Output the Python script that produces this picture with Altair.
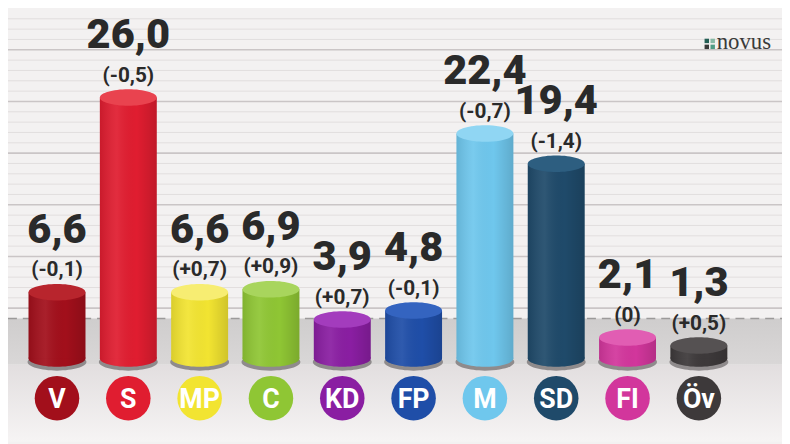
import altair as alt
import pandas as pd

# ---------------- data ----------------
PARTIES = ["V", "S", "MP", "C", "KD", "FP", "M", "SD", "FI", "Öv"]
VALUES = [6.6, 26.0, 6.6, 6.9, 3.9, 4.8, 22.4, 19.4, 2.1, 1.3]
CHANGES = [-0.1, -0.5, 0.7, 0.9, 0.7, -0.1, -0.7, -1.4, 0.0, 0.5]
THRESHOLD = 4.0
GRID_LEVELS = list(range(0, 29))

# ---------------- styles ----------------
BAR_COLORS = ["#a20f1b", "#e01d30", "#f2e431", "#8fc634", "#8a1ea2",
              "#1f4ea8", "#6fc7ed", "#1f4a6a", "#d2369c", "#3d393a"]
TOP_COLORS = ["#b8252d", "#e9434f", "#f7ed72", "#a8d55d", "#a33cbd",
              "#3464c0", "#90d6f3", "#2d5e80", "#e15db3", "#555152"]
FONT = "Liberation Sans Narrow, Roboto, sans-serif"
W, H = 782, 436
ELLIPSE = "M-1,0A1,0.29,0,1,1,1,0A1,0.29,0,1,1,-1,0Z"
BAR_W = 57.5


def fmt_value(v):
    return f"{v:.1f}".replace(".", ",")


def fmt_change(c):
    if c == 0:
        return "(0)"
    return "(" + f"{c:+.1f}".replace(".", ",") + ")"


df = pd.DataFrame({
    "party": PARTIES,
    "value": VALUES,
    "vlabel": [fmt_value(v) for v in VALUES],
    "clabel": [fmt_change(c) for c in CHANGES],
})

x_scale = alt.Scale(type="point", domain=PARTIES, range=[49.5, 698], padding=0)
y_scale = alt.Scale(domain=[-8.28, 34.68], nice=False, zero=False)
grid_scale = alt.Scale(domain=[-12.93, 28.83], nice=False, zero=False)
color_scale = alt.Scale(domain=PARTIES, range=BAR_COLORS)
top_scale = alt.Scale(domain=PARTIES, range=TOP_COLORS)

X = alt.X("party:N", scale=x_scale, axis=None)
base = alt.Chart(df)

grid = alt.Chart(pd.DataFrame({"g": GRID_LEVELS})).mark_rule().encode(
    y=alt.Y("g:Q", scale=grid_scale, axis=None),
    x=alt.value(0), x2=alt.value(W),
    color=alt.condition("datum.g % 5 === 0", alt.value("#cac5c6"), alt.value("#e2dede")),
    strokeWidth=alt.condition("datum.g % 5 === 0", alt.value(1.6), alt.value(1)),
)

tdf = pd.DataFrame({"t": [THRESHOLD]})

lower_bg = alt.Chart(tdf).mark_rect(
    color=alt.LinearGradient(gradient="linear", x1=0, x2=0, y1=0, y2=1,
                             stops=[alt.GradientStop(offset=0, color="#e2dedf"),
                                    alt.GradientStop(offset=1, color="#f6f4f4")])
).encode(x=alt.value(0), x2=alt.value(W),
         y=alt.YDatum(-0.6, scale=y_scale, axis=None), y2=alt.Y2Datum(-8.28))

band = alt.Chart(tdf).mark_rect(
    color=alt.LinearGradient(gradient="linear", x1=0, x2=0, y1=0, y2=1,
                             stops=[alt.GradientStop(offset=0, color="#cfcdcd"),
                                    alt.GradientStop(offset=1, color="#d9d7d7")])
).encode(x=alt.value(0), x2=alt.value(W),
         y=alt.Y("t:Q", scale=y_scale, axis=None), y2=alt.Y2Datum(-0.6))

thr = alt.Chart(tdf).mark_rule(color="#9c9a9a", strokeDash=[9, 6], strokeWidth=1.5).encode(
    y=alt.Y("t:Q", scale=y_scale, axis=None), x=alt.value(0), x2=alt.value(W))

SHADE = alt.LinearGradient(
    gradient="linear", x1=0, x2=1, y1=0, y2=0,
    stops=[alt.GradientStop(offset=0, color="rgba(0,0,0,0.10)"),
           alt.GradientStop(offset=0.3, color="rgba(255,255,255,0.07)"),
           alt.GradientStop(offset=0.65, color="rgba(0,0,0,0)"),
           alt.GradientStop(offset=1, color="rgba(0,0,0,0.14)")])

shadow = base.mark_point(shape=ELLIPSE, filled=True, size=(BAR_W + 2) ** 2,
                         opacity=1, color="#8f8b8c", strokeWidth=0).encode(
    x=X, y=alt.YDatum(-0.35, scale=y_scale, axis=None))

bottom = base.mark_point(shape=ELLIPSE, filled=True, size=BAR_W ** 2,
                         opacity=1, strokeWidth=0).encode(
    x=X, y=alt.YDatum(0, scale=y_scale, axis=None),
    color=alt.Color("party:N", scale=color_scale, legend=None))

shade_bottom = base.mark_point(shape=ELLIPSE, filled=True, size=BAR_W ** 2,
                               opacity=1, strokeWidth=0, color=SHADE).encode(
    x=X, y=alt.YDatum(0, scale=y_scale, axis=None))

bars = base.mark_bar(size=BAR_W).encode(
    x=X, y=alt.Y("value:Q", scale=y_scale, axis=None), y2=alt.Y2Datum(0),
    color=alt.Color("party:N", scale=color_scale, legend=None))

shade = base.mark_bar(size=BAR_W, color=SHADE).encode(
    x=X, y=alt.Y("value:Q", scale=y_scale, axis=None), y2=alt.Y2Datum(0))

top = base.mark_point(shape=ELLIPSE, filled=True, size=BAR_W ** 2,
                      opacity=1, strokeWidth=0).encode(
    x=X, y=alt.Y("value:Q", scale=y_scale, axis=None),
    fill=alt.Fill("party:N", scale=top_scale, legend=None))

vtext = base.mark_text(font=FONT, fontWeight=900, fontSize=42, color="#2a2a2a",
                       baseline="alphabetic", dy=-50).encode(
    x=X, y=alt.Y("value:Q", scale=y_scale, axis=None), text="vlabel:N")

ctext = base.mark_text(font=FONT, fontWeight="bold", fontSize=21, color="#2a2a2a",
                       baseline="alphabetic", dy=-16).encode(
    x=X, y=alt.Y("value:Q", scale=y_scale, axis=None), text="clabel:N")

circles = base.mark_circle(size=45 ** 2, opacity=1).encode(
    x=X, y=alt.YDatum(-3.94, scale=y_scale, axis=None),
    color=alt.Color("party:N", scale=color_scale, legend=None))

clabels = base.mark_text(font=FONT, fontWeight="bold", fontSize=27, color="white",
                         baseline="alphabetic", dy=10).encode(
    x=X, y=alt.YDatum(-3.94, scale=y_scale, axis=None), text="party:N")

one = pd.DataFrame({"a": [0]})
logo_text = alt.Chart(one).mark_text(font="Liberation Serif, DejaVu Serif, serif",
                                     fontSize=23, color="#3a3a3a", align="left",
                                     baseline="alphabetic").encode(
    x=alt.value(716), y=alt.value(39), text=alt.value("novus"))
logo_sq = []
for (sx, sy, sc) in [(706, 31, "#245f55"), (712, 31, "#86b9a6"),
                     (706, 37, "#3a3a3a"), (712, 37, "#4f9c86")]:
    logo_sq.append(alt.Chart(one).mark_square(size=20, opacity=1, color=sc).encode(
        x=alt.value(sx), y=alt.value(sy)))

data_layers = alt.layer(lower_bg, band, thr, shadow, bottom, shade_bottom, bars, shade,
                        top, vtext, ctext, circles, clabels, logo_text, *logo_sq)

chart = alt.layer(grid, data_layers).resolve_scale(y="independent").properties(
    width=W, height=H, padding=0,
    autosize=alt.AutoSizeParams(type="none"),
    background="#f3f1f1",
).configure_view(stroke=None)

chart.save("out.html", embed_options={"renderer": "svg", "actions": False})
